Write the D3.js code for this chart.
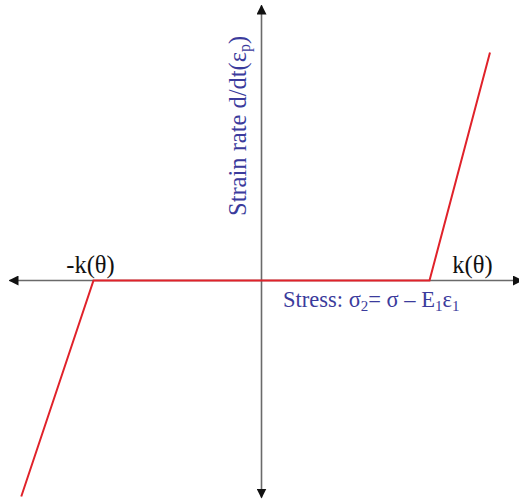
<!DOCTYPE html>
<html>
<head>
<meta charset="utf-8">
<script src="https://cdn.jsdelivr.net/npm/d3@7"></script>
<style>
  html, body { margin: 0; padding: 0; background: #fff; }
  svg { display: block; }
  text { font-family: "Liberation Serif", "Times New Roman", serif; }
</style>
</head>
<body>
<svg id="chart" width="519" height="499"></svg>
<script>
// Piecewise-linear viscoplastic flow rule: no flow inside the yield band |σ2| < k(θ)
const stressPoints = [-1.43, -1, 1, 1.36];
const strainRatePoints = [-2.16, 0, 0, 2.28];

// Axis extents (stress, strain rate) and threshold labels
const stressAxisExtent = [-1.5, 1.55];
const strainAxisExtent = [-2.17, 2.75];
const thresholds = [-1, 1];
const thresholdLabels = ["-k(\u03B8)", "k(\u03B8)"];

const svg = d3.select("#chart");

const x = d3.scaleLinear().domain([-1.5, 1.5]).range([9.5, 513.5]);
const y = d3.scaleLinear().domain([-2.2, 2.8]).range([500.5, 0.5]);

const defs = svg.append("defs");
defs.append("marker")
  .attr("id", "arrow")
  .attr("viewBox", "0 0 10 10")
  .attr("refX", 9).attr("refY", 5)
  .attr("markerWidth", 10).attr("markerHeight", 10)
  .attr("markerUnits", "userSpaceOnUse")
  .attr("orient", "auto-start-reverse")
  .append("path")
  .attr("d", "M0,0 L10,5 L0,10 Z")
  .attr("fill", "#111");

const axisColor = "#6a6a6a";

// Stress axis (horizontal)
svg.append("line")
  .attr("x1", x(stressAxisExtent[0])).attr("x2", x(stressAxisExtent[1]))
  .attr("y1", y(0)).attr("y2", y(0))
  .attr("stroke", axisColor).attr("stroke-width", 1.6)
  .attr("marker-start", "url(#arrow)")
  .attr("marker-end", "url(#arrow)");

// Strain-rate axis (vertical)
svg.append("line")
  .attr("x1", x(0)).attr("x2", x(0))
  .attr("y1", y(strainAxisExtent[0])).attr("y2", y(strainAxisExtent[1]))
  .attr("stroke", axisColor).attr("stroke-width", 1.6)
  .attr("marker-start", "url(#arrow)")
  .attr("marker-end", "url(#arrow)");

// Flow curve
const line = d3.line().x(d => x(d[0])).y(d => y(d[1]));
svg.append("path")
  .datum(d3.zip(stressPoints, strainRatePoints))
  .attr("d", line)
  .attr("fill", "none")
  .attr("stroke", "#e0222a")
  .attr("stroke-width", 2)
  .attr("stroke-linejoin", "miter");

// Threshold labels above the stress axis
svg.selectAll("text.threshold")
  .data(thresholds)
  .join("text")
  .attr("class", "threshold")
  .attr("x", (d, i) => x(d) + (i === 0 ? -3 : 43))
  .attr("y", y(0) - 8)
  .attr("text-anchor", "middle")
  .attr("font-size", 24.5)
  .attr("fill", "#111")
  .text((d, i) => thresholdLabels[i]);

const labelColor = "#3b3b9c";

// Stress axis title
const sx = svg.append("text")
  .attr("x", 283).attr("y", y(0) + 26)
  .attr("font-size", 22.5)
  .attr("fill", labelColor);
sx.append("tspan").text("Stress: \u03C3");
sx.append("tspan").attr("font-size", 15).attr("dy", 4).text("2");
sx.append("tspan").attr("dy", -4).text("= \u03C3 \u2013 E");
sx.append("tspan").attr("font-size", 15).attr("dy", 4).text("1");
sx.append("tspan").attr("dy", -4).text("\u03B5");
sx.append("tspan").attr("font-size", 15).attr("dy", 4).text("1");

// Strain-rate axis title
const sy = svg.append("text")
  .attr("transform", `translate(246,216) rotate(-90)`)
  .attr("font-size", 24.5)
  .attr("fill", labelColor);
sy.append("tspan").text("Strain rate  d/dt(\u03B5");
sy.append("tspan").attr("font-size", 16).attr("dy", 4).text("p");
sy.append("tspan").attr("dy", -4).text(")");
</script>
</body>
</html>
